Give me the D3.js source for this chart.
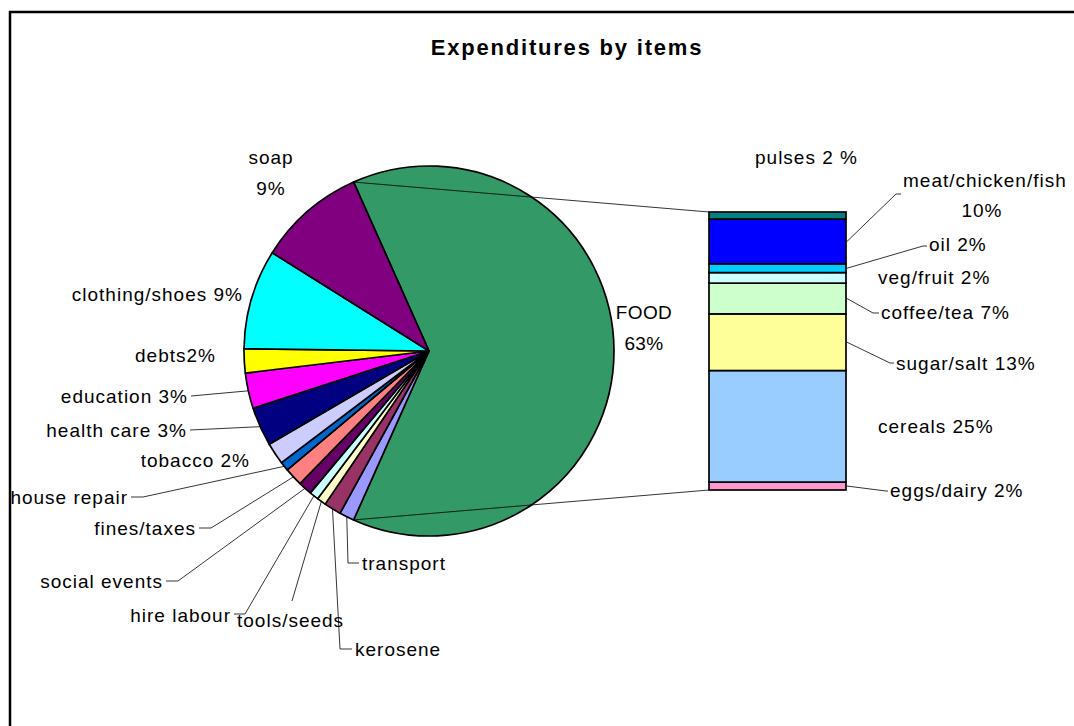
<!DOCTYPE html>
<html>
<head>
<meta charset="utf-8">
<script src="https://cdn.jsdelivr.net/npm/d3@7"></script>
<style>
  html, body { margin: 0; padding: 0; background: #fff; }
  svg text { font-family: "Liberation Sans", Arial, sans-serif; fill: #000; }
</style>
</head>
<body>
<svg id="chart" width="1074" height="726"></svg>
<script>
// Expenditure shares (percent of total household spending)
const otherNames  = ["transport", "kerosene", "tools/seeds", "hire labour", "social events",
                     "fines/taxes", "house repair", "tobacco", "health care", "education",
                     "debts", "clothing/shoes", "soap"];
const otherValues = [1.3, 1.5, 0.8, 0.8, 1.2, 1.6, 0.8, 1.9, 3.4, 3.1, 2.1, 8.7, 9.4];
const otherColors = ["#9999FF", "#993366", "#FFFFCC", "#CCFFFF", "#660066", "#FF8080",
                     "#0066CC", "#CCCCFF", "#000080", "#FF00FF", "#FFFF00", "#00FFFF", "#800080"];
// Items whose label also states the share
const otherShowPct = ["tobacco", "health care", "education", "debts", "clothing/shoes", "soap"];

// Breakdown of the FOOD slice, bottom to top of the stacked bar
const foodNames  = ["eggs/dairy", "cereals", "sugar/salt", "coffee/tea", "veg/fruit", "oil",
                    "meat/chicken/fish", "pulses"];
const foodValues = [1.8, 25.4, 12.9, 7.0, 2.4, 2.0, 10.2, 1.6];
const foodColors = ["#FF99CC", "#99CCFF", "#FFFF99", "#CCFFCC", "#CCFFFF", "#00CCFF",
                    "#0000FF", "#008080"];

const titleText = "Expenditures by items";
const foodName = "FOOD";
const foodColor = "#339966";

const svg = d3.select("#chart");
const FS = 19;        // label font size
const LS = 1.0;       // label letter spacing

// chart frame
svg.append("rect")
  .attr("x", 10).attr("y", 12).attr("width", 1200).attr("height", 800)
  .attr("fill", "none").attr("stroke", "#000").attr("stroke-width", 2.5);

svg.append("text")
  .attr("x", 567).attr("y", 47).attr("dy", "0.35em")
  .attr("text-anchor", "middle")
  .attr("font-size", 22).attr("font-weight", "bold").attr("letter-spacing", 1.8)
  .text(titleText);

// ---------- pie ----------
const cx = 429, cy = 351, R = 185;
const foodTotal = d3.sum(foodValues);
const grandTotal = foodTotal + d3.sum(otherValues);
const pct = d3.format(".0%");

const pieData = [{ name: foodName, value: foodTotal, color: foodColor }]
  .concat(otherNames.map((n, i) => ({ name: n, value: otherValues[i], color: otherColors[i] })));

// FOOD slice is centred on the right-hand side (pointing at the bar)
const foodAngle = 2 * Math.PI * foodTotal / grandTotal;
const start = Math.PI / 2 - foodAngle / 2;
const pie = d3.pie().sort(null).value(d => d.value).startAngle(start).endAngle(start + 2 * Math.PI);
const arcs = pie(pieData);
const arc = d3.arc().innerRadius(0).outerRadius(R);

const gPie = svg.append("g").attr("transform", `translate(${cx},${cy})`);
gPie.selectAll("path").data(arcs).join("path")
  .attr("d", arc)
  .attr("fill", d => d.data.color)
  .attr("stroke", "#000").attr("stroke-width", 1.7).attr("stroke-linejoin", "round");

const edgePoint = (a, r = R) => [cx + r * Math.sin(a), cy - r * Math.cos(a)];

// ---------- stacked bar ----------
const barX = 709, barW = 137;
const y = d3.scaleLinear().domain([0, foodTotal]).range([490, 212]);
const stack = d3.stack().keys(foodNames)([Object.fromEntries(foodNames.map((n, i) => [n, foodValues[i]]))]);
const segs = stack.map((s, i) => ({ name: foodNames[i], value: foodValues[i], color: foodColors[i], y0: s[0][0], y1: s[0][1] }));

// connectors from the FOOD slice to the bar
const foodArc = arcs[0];
const pTop = edgePoint(foodArc.startAngle), pBot = edgePoint(foodArc.endAngle);
const connector = d3.line();
svg.append("path").attr("d", connector([pTop, [barX, y(foodTotal)]]))
  .attr("stroke", "#000").attr("stroke-width", 0.8).attr("fill", "none");
svg.append("path").attr("d", connector([pBot, [barX, y(0)]]))
  .attr("stroke", "#000").attr("stroke-width", 0.8).attr("fill", "none");

svg.append("g").selectAll("rect").data(segs).join("rect")
  .attr("x", barX).attr("width", barW)
  .attr("y", d => y(d.y1)).attr("height", d => y(d.y0) - y(d.y1))
  .attr("fill", d => d.color)
  .attr("stroke", "#000").attr("stroke-width", 1.7);

// ---------- labels ----------
const leader = d3.line();
function addText(x, yy, str, anchor, ls) {
  svg.append("text")
    .attr("x", x).attr("y", yy).attr("dy", "0.35em")
    .attr("text-anchor", anchor || "start")
    .attr("font-size", FS).attr("letter-spacing", ls !== undefined ? ls : LS)
    .text(str);
}
function addLeader(pts) {
  svg.append("path").attr("d", leader(pts))
    .attr("fill", "none").attr("stroke", "#000").attr("stroke-width", 0.8);
}

// pie label placement: text anchor point, and leader elbow / tick end
const pieLayout = {
  "FOOD":           { x: 644, y: 312, anchor: "middle", twoLine: true, ls: 0.4 },
  "soap":           { x: 271, y: 157, anchor: "middle", twoLine: true },
  "clothing/shoes": { x: 243, y: 294, anchor: "end" },
  "debts":          { x: 216, y: 355, anchor: "end", sep: "" },
  "education":      { x: 188, y: 396, anchor: "end", tick: [[191, 396]], toEdge: true },
  "health care":    { x: 187, y: 430, anchor: "end", tick: [[190, 430]], toEdge: true },
  "tobacco":        { x: 250, y: 460, anchor: "end" },
  "house repair":   { x: 128, y: 497, anchor: "end", tick: [[131, 497], [143, 497]], toEdge: true },
  "fines/taxes":    { x: 196, y: 528, anchor: "end", tick: [[199, 528], [211, 528]], toEdge: true },
  "social events":  { x: 163, y: 581, anchor: "end", tick: [[166, 581], [178, 581]], toEdge: true },
  "hire labour":    { x: 231, y: 615, anchor: "end", tick: [[234, 614], [245, 614]], toEdge: true },
  "tools/seeds":    { x: 237, y: 620, anchor: "start", tick: [[292, 601]], toEdge: true },
  "kerosene":       { x: 355, y: 649, anchor: "start", tick: [[352, 649], [340, 649]], toEdge: true },
  "transport":      { x: 362, y: 563, anchor: "start", tick: [[359, 563], [348, 563]], toEdge: true }
};

arcs.forEach(a => {
  const d = a.data, L = pieLayout[d.name];
  const share = pct(d.value / grandTotal);
  const shows = d.name === foodName || otherShowPct.includes(d.name);
  if (L.twoLine) {
    addText(L.x, L.y, d.name, "middle", L.ls);
    addText(L.x, L.y + 31, share, "middle", L.ls);
  } else {
    const sep = L.sep !== undefined ? L.sep : " ";
    addText(L.x, L.y, shows ? d.name + sep + share : d.name, L.anchor);
  }
  if (L.toEdge) {
    const mid = (a.startAngle + a.endAngle) / 2;
    addLeader(L.tick.concat([edgePoint(mid)]));
  }
});

// bar label placement
const barLayout = {
  "pulses":            { x: 755, y: 157, fmt: v => "pulses " + d3.format(".0f")(v * 100) + " %" },
  "meat/chicken/fish": { x: 903, y: 180, second: { x: 982, y: 210 }, tick: [[901, 194], [896, 194]] },
  "oil":               { x: 929, y: 244, tick: [[927, 246], [923, 246]] },
  "veg/fruit":         { x: 878, y: 277 },
  "coffee/tea":        { x: 881, y: 312, tick: [[879, 313], [873, 313]] },
  "sugar/salt":        { x: 896, y: 363, tick: [[894, 363], [890, 363]] },
  "cereals":           { x: 878, y: 426 },
  "eggs/dairy":        { x: 890, y: 490, tick: [[888, 491], [886, 491]] }
};

segs.forEach(s => {
  const L = barLayout[s.name];
  const share = s.value / grandTotal;
  if (L.fmt) addText(L.x, L.y, L.fmt(share));
  else if (L.second) {
    addText(L.x, L.y, s.name);
    addText(L.second.x, L.second.y, pct(share), "middle");
  } else addText(L.x, L.y, s.name + " " + pct(share));
  if (L.tick) {
    const ym = (y(s.y0) + y(s.y1)) / 2;
    addLeader(L.tick.concat([[barX + barW + 1, ym]]));
  }
});
</script>
</body>
</html>
